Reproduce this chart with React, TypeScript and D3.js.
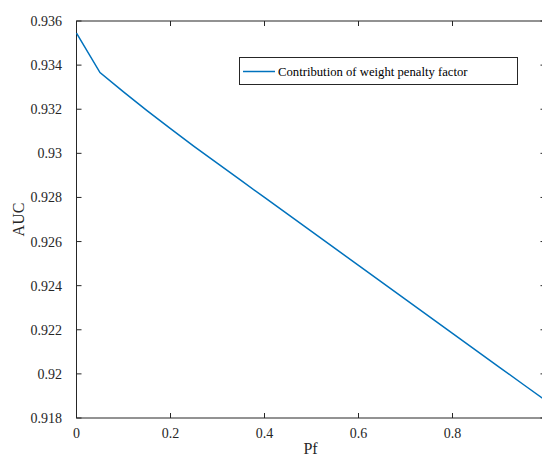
import React from "react";
import * as d3 from "d3";

const pfValues = [0, 0.05, 0.1, 0.15, 0.2, 0.25, 0.3, 0.35, 0.4, 0.45, 0.5, 0.55, 0.6, 0.65, 0.7, 0.75, 0.8, 0.85, 0.9, 0.95, 1.0];
const aucValues = [0.93545, 0.93366, 0.93279, 0.93194, 0.93112, 0.93032, 0.92954, 0.92877, 0.928, 0.92723, 0.92646, 0.92569, 0.92492, 0.92415, 0.92338, 0.92261, 0.92184, 0.92107, 0.9203, 0.91953, 0.91877];
const xTicks = [0, 0.2, 0.4, 0.6, 0.8];
const yTicks = [0.918, 0.92, 0.922, 0.924, 0.926, 0.928, 0.93, 0.932, 0.934, 0.936];
const seriesName = "Contribution of weight penalty factor";
const xLabel = "Pf";
const yLabel = "AUC";

export default function App() {
  const W = 542, H = 457;
  const left = 76.5, right = 546.5, top = 21, bottom = 418;
  const x = d3.scaleLinear().domain([0, 1]).range([left, right]);
  const y = d3.scaleLinear().domain([0.918, 0.936]).range([bottom, top]);
  const line = d3.line<number>().x((_, i) => x(pfValues[i])).y((d) => y(d));
  const axisColor = "#262626";
  const font = "Liberation Serif, Times New Roman, serif";
  const tl = 5;
  return (
    <svg width={W} height={H} style={{ position: "absolute", left: 0, top: 0, background: "#fff", fontFamily: font }}>
      <rect x={0} y={0} width={W} height={H} fill="#fff" />
      <rect x={left} y={top} width={right - left} height={bottom - top} fill="none" stroke={axisColor} strokeWidth={1} />
      {xTicks.map((t) => (
        <g key={"x" + t}>
          <line x1={x(t)} x2={x(t)} y1={bottom} y2={bottom - tl} stroke={axisColor} />
          <line x1={x(t)} x2={x(t)} y1={top} y2={top + tl} stroke={axisColor} />
          <text x={x(t)} y={438} textAnchor="middle" fontSize={14} fill={axisColor}>{String(t)}</text>
        </g>
      ))}
      {yTicks.map((t) => (
        <g key={"y" + t}>
          <line x1={left} x2={left + tl} y1={y(t)} y2={y(t)} stroke={axisColor} />
          <line x1={right} x2={right - tl - 1} y1={y(t)} y2={y(t)} stroke={axisColor} />
          <text x={62} y={y(t) + 5} textAnchor="end" fontSize={14} fill={axisColor}>{String(+t.toFixed(3))}</text>
        </g>
      ))}
      <path d={line(aucValues) || ""} fill="none" stroke="#0072BD" strokeWidth={1.5} />
      <text x={(left + right) / 2 - 1} y={454} textAnchor="middle" fontSize={16} fill={axisColor}>{xLabel}</text>
      <text transform={`translate(24, ${(top + bottom) / 2}) rotate(-90)`} textAnchor="middle" fontSize={16} fill={axisColor}>{yLabel}</text>
      <rect x={239.5} y={57.5} width={278} height={27} fill="#fff" stroke={axisColor} strokeWidth={1} />
      <line x1={243} x2={275} y1={71.5} y2={71.5} stroke="#0072BD" strokeWidth={1.5} />
      <text x={278} y={76} fontSize={12.7} fill="#000">{seriesName}</text>
    </svg>
  );
}
